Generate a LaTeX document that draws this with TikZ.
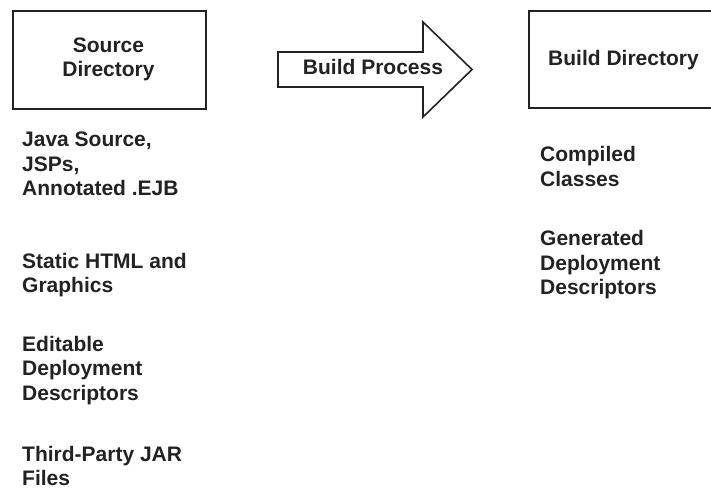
\documentclass[tikz,border=0pt]{standalone}
\usepackage{fontspec}
\setmainfont{Liberation Sans}
\definecolor{ink}{HTML}{222222}
\begin{document}
\begin{tikzpicture}[x=1pt,y=-1pt,
  lbl/.style={font=\bfseries\fontsize{21}{24.5}\selectfont, text=ink, inner sep=0pt, align=left},
  tight/.style={font=\bfseries\fontsize{21}{23.5}\selectfont},
  boxline/.style={draw=ink, line width=2.2pt},
  arrowline/.style={draw=ink, line width=1.6pt, line join=miter, fill=white}]
\useasboundingbox (0,0) rectangle (711,488);
% boxes
\node[boxline, minimum width=193pt, minimum height=98pt, inner sep=0pt, anchor=north west] (src) at (12,10) {};
\node[boxline, minimum width=200pt, minimum height=97pt, inner sep=0pt, anchor=north west] (bld) at (528,10) {};
\node[lbl, align=center, anchor=north] (srct) at (108.5,37.5) {Source\\Directory};
\node[lbl, anchor=base] (bldt) at (623.5,65) {Build Directory};
% block arrow
\coordinate (a1) at (278,52);
\coordinate (a2) at (423,52);
\coordinate (a3) at (423,22);
\coordinate (a4) at (472,69.5);
\coordinate (a5) at (423,117);
\coordinate (a6) at (423,87);
\coordinate (a7) at (278,87);
\path[arrowline] (a1) -- (a2) -- (a3) -- (a4) -- (a5) -- (a6) -- (a7) -- cycle;
\node[lbl, anchor=base] (proc) at (373,74) {Build Process};
% source contents
\node[lbl, anchor=north west] (s1) at (22,131.7) {Java Source,\\JSPs,\\Annotated .EJB};
\node[lbl, anchor=north west] (s2) at (22,252.7) {Static HTML and\\Graphics};
\node[lbl, anchor=north west] (s3) at (22,335.7) {Editable\\Deployment\\Descriptors};
\node[lbl, tight, anchor=north west] (s4) at (22,446.3) {Third-Party JAR\\Files};
% build contents
\node[lbl, anchor=north west] (b1) at (540,146.5) {Compiled\\Classes};
\node[lbl, anchor=north west] (b2) at (540,230.5) {Generated\\Deployment\\Descriptors};
\end{tikzpicture}
\end{document}
